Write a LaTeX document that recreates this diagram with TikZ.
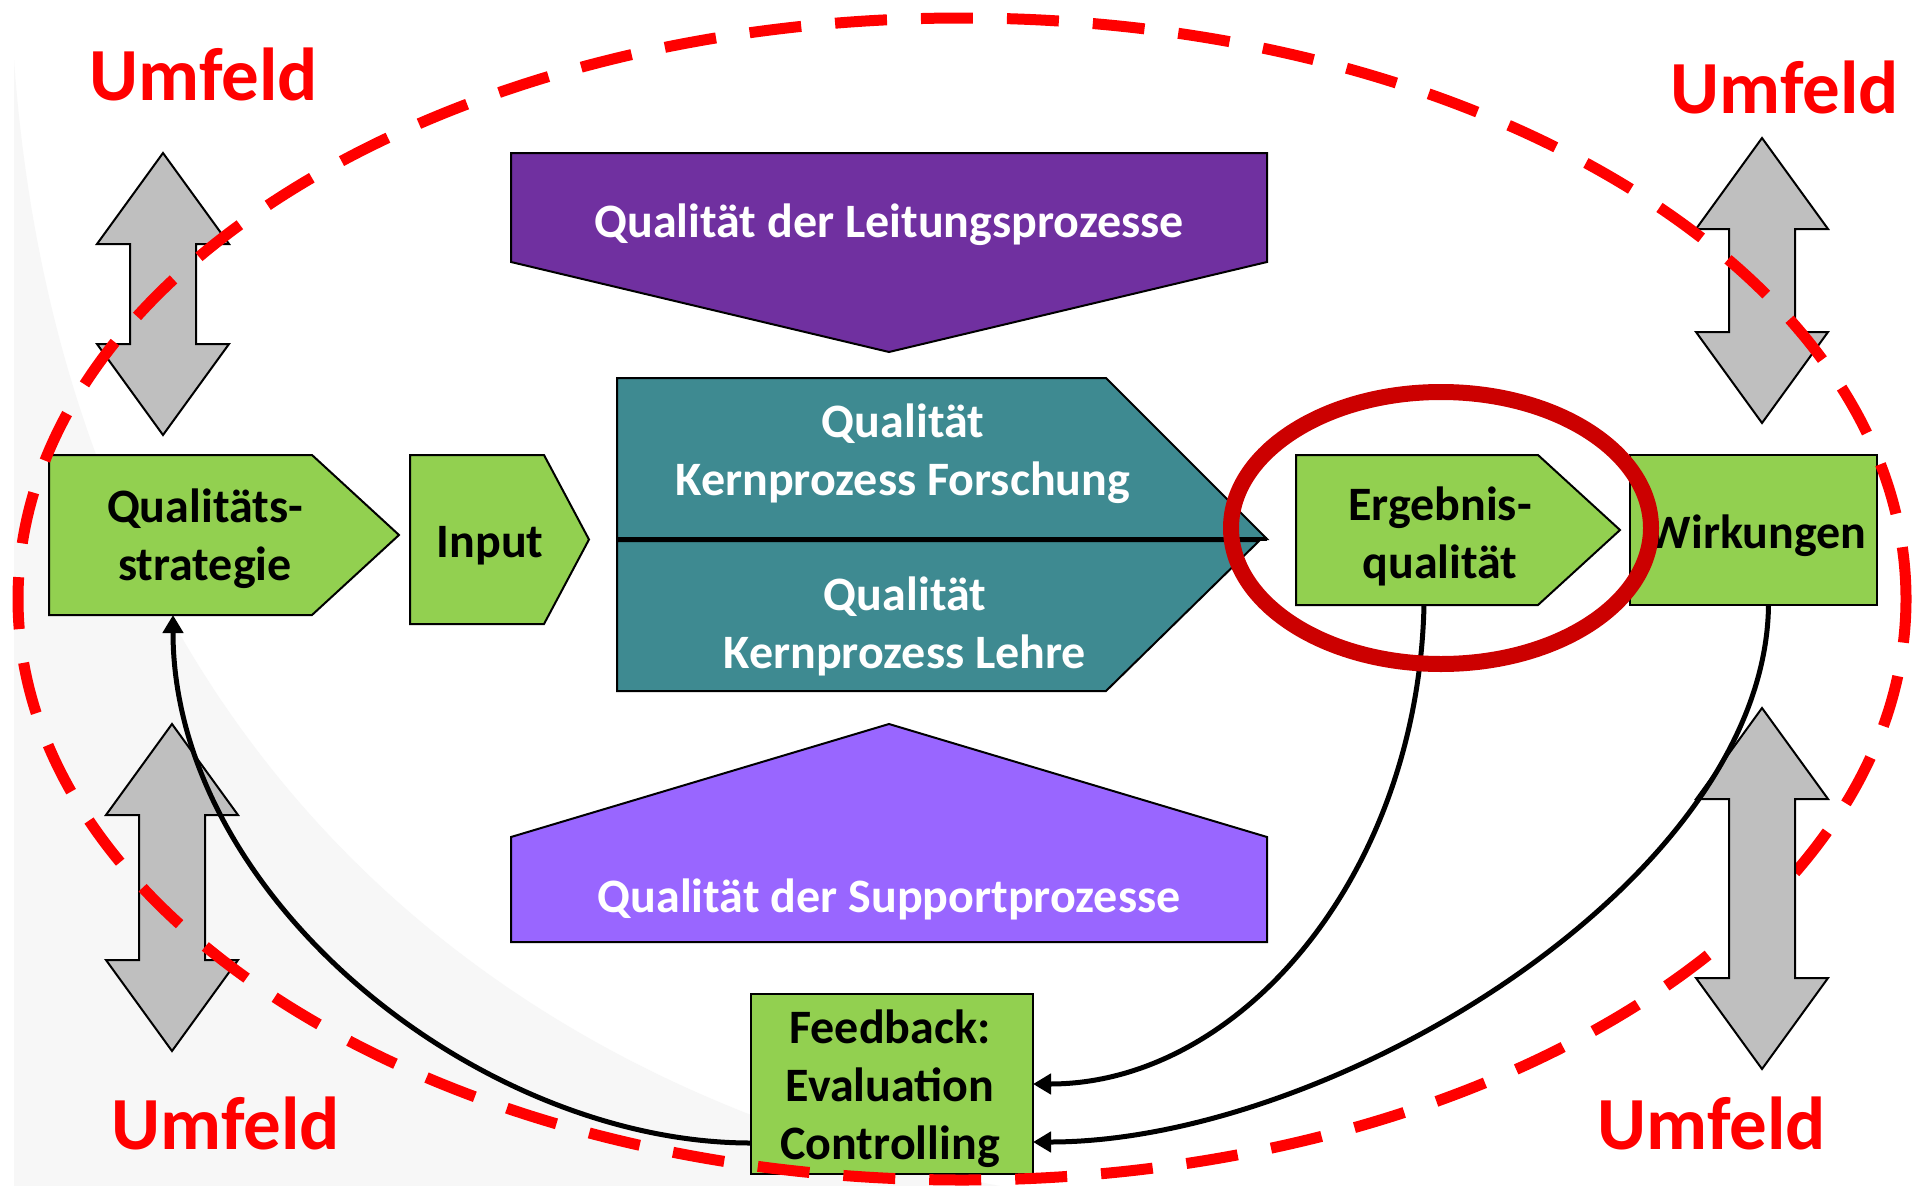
\documentclass[tikz,border=0pt]{standalone}
\usepackage{fontspec}
\setmainfont{Carlito}
\usetikzlibrary{arrows.meta,calc}
\definecolor{dpurple}{HTML}{7030A0}
\definecolor{lpurple}{HTML}{9966FF}
\definecolor{tealc}{RGB}{62,138,145}
\definecolor{lgreen}{HTML}{92D050}
\definecolor{agrey}{HTML}{BFBFBF}
\definecolor{bggrey}{HTML}{F7F7F7}
\definecolor{ringred}{HTML}{CC0000}
\definecolor{dashred}{HTML}{FF0000}
\newcommand\dblarr[3]{% x, ytop, ybottom
  \draw[dblarrowstyle] (#1,#2) -- ({#1+66},{#2+91}) -- ({#1+33},{#2+91}) -- ({#1+33},{#3-91})
    -- ({#1+66},{#3-91}) -- (#1,#3) -- ({#1-66},{#3-91}) -- ({#1-33},{#3-91})
    -- ({#1-33},{#2+91}) -- ({#1-66},{#2+91}) -- cycle;}
\begin{document}
\begin{tikzpicture}[x=1pt,y=-1pt,
  shapeline/.style={draw=black,line width=2pt,line join=miter},
  greenfill/.style={shapeline,fill=lgreen},
  dblarrowstyle/.style={shapeline,fill=agrey},
  anchorbox/.style={inner sep=0pt,outer sep=0pt},
  txt/.style={font=\fontsize{48}{58}\selectfont\bfseries,align=center,inner sep=0pt},
  wtxt/.style={txt,text=white},
  umfeld/.style={font=\fontsize{75}{88}\selectfont\bfseries,text=dashred,inner sep=0pt,anchor=base},
  feedarrow/.style={draw=black,line width=5pt,-{Triangle[length=18pt,width=20pt]}},
]
\useasboundingbox (0,0) rectangle (1917,1186);
\fill[white] (0,0) rectangle (1917,1186);
% faint background shape
\fill[bggrey] (14,60) .. controls (60,700) and (450,1080) .. (1000,1186) -- (14,1186) -- cycle;

% environment arrows (below the dashed ellipse)
\dblarr{163}{153}{435}
\dblarr{1762}{138}{423}
\dblarr{172}{724}{1051}

% Leitungsprozesse
\node[anchorbox,minimum width=756pt,minimum height=199pt] (leit) at (889,252.5) {};
\draw[shapeline,fill=dpurple] (leit.north west) -- (leit.north east) -- ([yshift=90pt]leit.south east)
  -- (leit.south) -- ([yshift=90pt]leit.south west) -- cycle;
\node[wtxt] (leittext) at (889,225) {Qualität der Leitungsprozesse};

% Supportprozesse
\node[anchorbox,minimum width=756pt,minimum height=218pt] (supp) at (889,833) {};
\draw[shapeline,fill=lpurple] (supp.south west) -- ([yshift=-113pt]supp.north west) -- (supp.north)
  -- ([yshift=-113pt]supp.north east) -- (supp.south east) -- cycle;
\node[wtxt] (supptext) at (889,899) {Qualität der Supportprozesse};

% Kernprozesse
\node[anchorbox,minimum width=650pt,minimum height=313pt] (kern) at (942,534.5) {};
\coordinate (midL) at (617,539);
\coordinate (midR) at (1267,539);
\draw[shapeline,fill=tealc] (kern.north west) -- ([xshift=-161pt]kern.north east) -- (midR) -- (midL) -- cycle;
\draw[shapeline,fill=tealc] ([yshift=-2pt]midL) -- (1259,541) -- ([xshift=-161pt]kern.south east) -- (kern.south west) -- cycle;
\draw[line width=4pt] (midL) -- (midR);
\node[wtxt] (forsch) at (903,454) {Qualität\\Kernprozess Forschung};
\node[wtxt] (lehre) at (905,626) {Qualität\\Kernprozess Lehre};

% Qualitaetsstrategie
\node[anchorbox,minimum width=350pt,minimum height=160pt] (strat) at (224,535) {};
\draw[greenfill] (strat.north west) -- ([xshift=-87pt]strat.north east) -- (strat.east)
  -- ([xshift=-87pt]strat.south east) -- (strat.south west) -- cycle;
\node[txt] (strattext) at (205,539) {Qualitäts-\\strategie};

% Input
\node[anchorbox,minimum width=179pt,minimum height=169pt] (inp) at (499.5,539.5) {};
\draw[greenfill] (inp.north west) -- ([xshift=-45pt]inp.north east) -- (inp.east)
  -- ([xshift=-45pt]inp.south east) -- (inp.south west) -- cycle;
\node[txt] (inptext) at (490,546) {Input};

% Ergebnisqualitaet
\node[anchorbox,minimum width=324pt,minimum height=150pt] (erg) at (1458,530) {};
\draw[greenfill] (erg.north west) -- ([xshift=-82pt]erg.north east) -- (erg.east)
  -- ([xshift=-82pt]erg.south east) -- (erg.south west) -- cycle;
\node[txt] (ergtext) at (1440,536) {Ergebnis-\\qualität};

% Wirkungen
\node[greenfill,anchorbox,minimum width=247pt,minimum height=150pt] (wirk) at (1753.5,530) {};
\node[txt] (wirktext) at (1757,536) {Wirkungen};

% Feedback
\node[greenfill,anchorbox,minimum width=282pt,minimum height=180pt] (fb) at (892,1084) {};
\node[txt] (fbtext) at (890,1089) {Feedback:\\Evaluation\\Controlling};

% Umfeld labels
\node[umfeld] (u1) at (204,100) {Umfeld};
\node[umfeld] (u2) at (1785,113) {Umfeld};
\node[umfeld] (u3) at (226,1149) {Umfeld};
\node[umfeld] (u4) at (1712,1149) {Umfeld};

% dashed system boundary
\draw[dashred,line width=11pt,dash pattern=on 52pt off 34pt] (962,599) ellipse [x radius=944pt,y radius=581pt];

% arrow above the ellipse
\dblarr{1762}{708}{1069}

% feedback loops
\draw[feedarrow] ([yshift=-59pt]fb.west) .. controls +(-271,0) and +(0,283) .. ([xshift=-51pt]strat.south);
\draw[feedarrow] ([xshift=-34pt]erg.south) .. controls +(-6,270) and +(207,0) .. (fb.east);
\draw[feedarrow] ([xshift=15pt]wirk.south) .. controls +(-3,275) and +(300,0) .. ([yshift=-58pt]fb.east);

% highlight ring
\draw[ringred,line width=16pt] (1441,528) ellipse [x radius=210pt,y radius=136pt];
\end{tikzpicture}
\end{document}
